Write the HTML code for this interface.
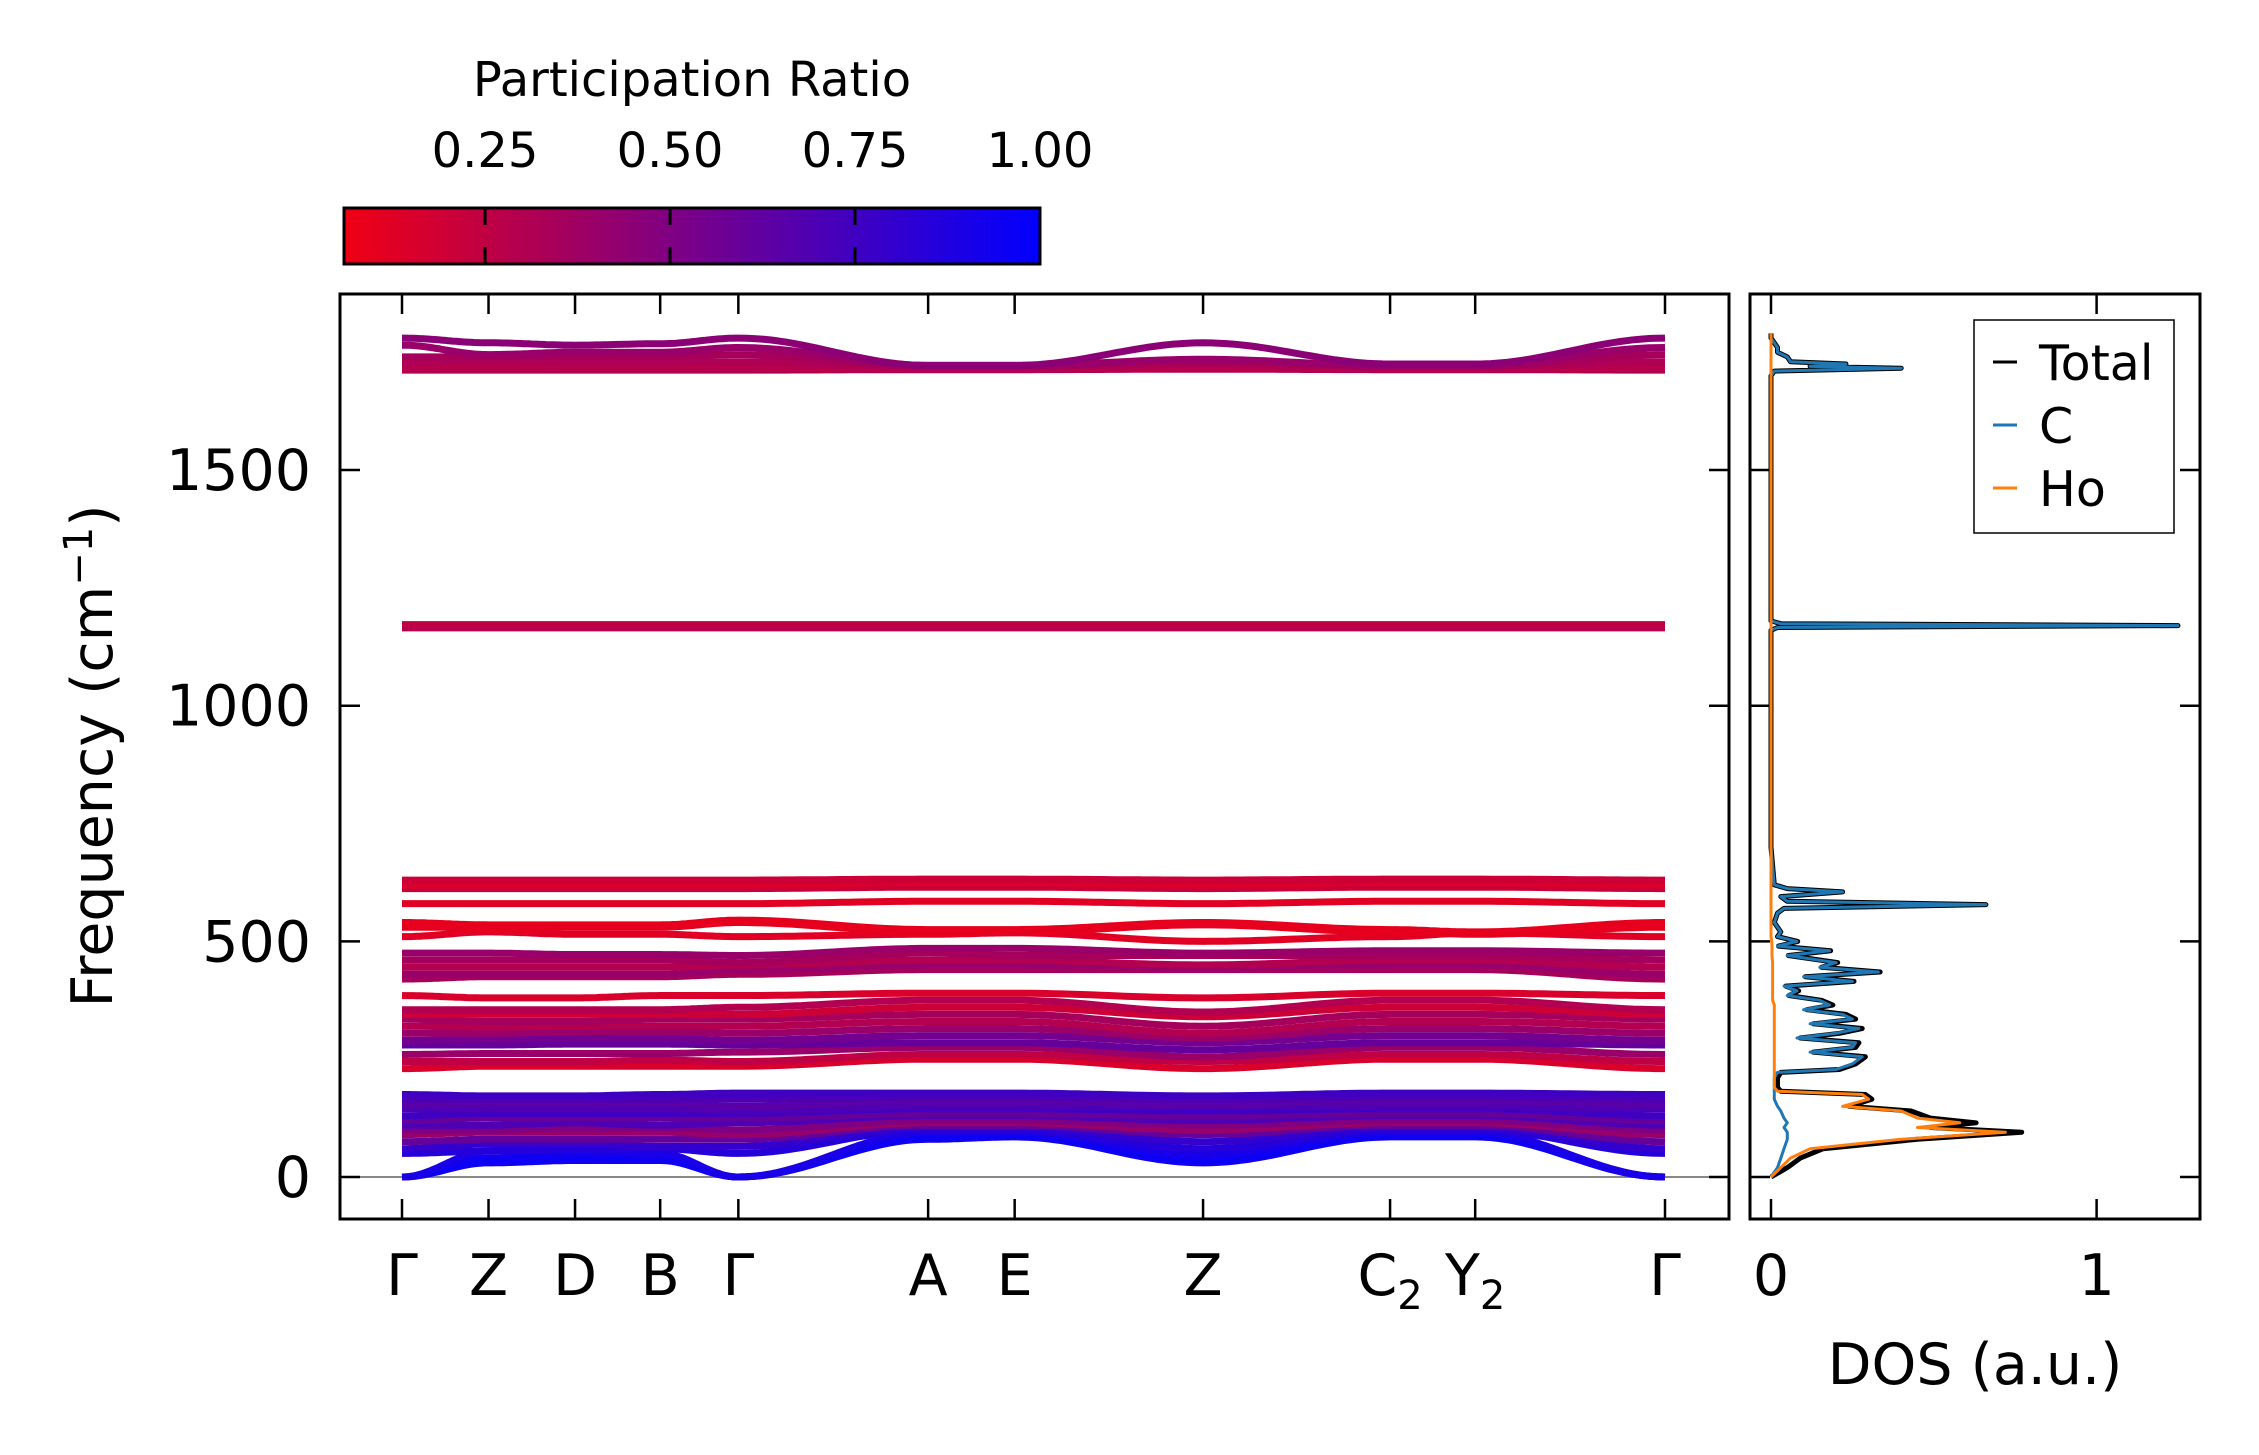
<!DOCTYPE html>
<html><head><meta charset="utf-8"><style>
html,body{margin:0;padding:0;background:#fff;}
svg{display:block;font-family:"DejaVu Sans","Liberation Sans",sans-serif;}
</style></head><body>
<svg id="chart" width="2259" height="1455" viewBox="0 0 2259 1455" xmlns="http://www.w3.org/2000/svg">
<defs>
<linearGradient id="cbgrad" x1="0" x2="1" y1="0" y2="0">
<stop offset="0" stop-color="rgb(240,0,20)"/>
<stop offset="1" stop-color="rgb(0,0,255)"/>
</linearGradient>
<clipPath id="mainclip"><rect x="340" y="294" width="1389" height="925"/></clipPath>
<clipPath id="dosclip"><rect x="1750" y="294" width="450" height="925"/></clipPath>
</defs>
<g id="colorbar">
<text x="692" y="96" font-size="48" text-anchor="middle">Participation Ratio</text>
<rect x="344" y="208" width="696" height="56" fill="url(#cbgrad)" stroke="#000" stroke-width="3"/>
<g id="cbticks"></g>
</g>
<g id="main">
<line x1="340" x2="1729" id="zeroline" stroke="#888" stroke-width="2"/>
<g id="bands" clip-path="url(#mainclip)"></g>
<rect x="340" y="294" width="1389" height="925" fill="none" stroke="#000" stroke-width="3"/>
<g id="mainticks"></g>
<text transform="translate(112,756) rotate(-90)" font-size="57" text-anchor="middle">Frequency (cm<tspan dy="-20" font-size="40">−1</tspan><tspan dy="20">)</tspan></text>
</g>
<g id="dos">
<g id="doscurves" clip-path="url(#dosclip)"></g>
<rect x="1750" y="294" width="450" height="925" fill="none" stroke="#000" stroke-width="3"/>
<g id="dosticks"></g>
<text x="1975" y="1384" font-size="57" text-anchor="middle">DOS (a.u.)</text>
<g>
<rect x="1974" y="320" width="200" height="213" fill="#fff" stroke="#000" stroke-width="1.5"/>
<line x1="1993" x2="2017" y1="362" y2="362" stroke="#000" stroke-width="3"/>
<text x="2039" y="380" font-size="49">Total</text>
<line x1="1993" x2="2017" y1="425" y2="425" stroke="#1f77b4" stroke-width="3"/>
<text x="2039" y="443" font-size="49">C</text>
<line x1="1993" x2="2017" y1="488" y2="488" stroke="#ff7f0e" stroke-width="3"/>
<text x="2039" y="506" font-size="49">Ho</text>
</g>
</g>
</svg>
<script>
const kLabels = ["Γ","Z","D","B","Γ","A","E","Z","C","Y","Γ"];
const kSubs = ["","","","","","","","","2","2",""];
const kDist = [0, 0.62, 1.24, 1.85, 2.41, 3.77, 4.39, 5.74, 7.08, 7.69, 9.05];
const yTicks = [0, 500, 1000, 1500];
const cbTicks = [0.25, 0.50, 0.75, 1.00];
const cbTickLabels = ["0.25", "0.50", "0.75", "1.00"];
const bandFreqs = [
[0,30,35,35,0,80,85,30,85,85,0],
[0,40,45,40,0,90,90,40,90,90,0],
[0,55,55,50,0,95,95,50,95,95,0],
[50,55,60,60,50,100,100,60,100,100,50],
[60,70,70,65,65,105,105,75,105,105,60],
[75,80,80,80,80,110,110,90,110,110,75],
[90,95,95,95,90,115,115,100,115,115,90],
[100,100,105,105,100,120,120,110,120,120,100],
[110,110,115,110,115,130,130,120,130,130,110],
[120,125,125,125,125,135,135,130,135,135,120],
[130,135,135,135,135,145,145,140,145,145,130],
[145,145,145,145,140,150,150,150,150,150,145],
[155,155,155,155,150,160,160,155,160,160,155],
[165,165,165,165,165,170,170,165,170,170,165],
[175,172,172,175,178,178,178,172,178,178,175],
[230,235,235,235,235,250,250,230,250,250,230],
[245,245,245,248,245,260,260,245,260,260,245],
[260,262,262,262,265,275,275,255,275,275,260],
[280,280,282,282,280,285,285,270,285,285,280],
[290,292,295,295,290,300,300,285,300,300,290],
[305,305,308,308,305,315,315,295,315,315,305],
[320,318,320,320,320,330,330,305,330,330,320],
[335,330,330,335,335,345,345,320,345,345,335],
[345,345,345,345,345,360,360,340,360,360,345],
[355,355,355,355,360,375,375,350,375,375,355],
[385,380,380,385,385,390,390,380,390,390,385],
[420,425,425,425,430,440,440,440,440,440,420],
[430,430,430,430,440,450,450,445,450,450,430],
[445,445,445,445,450,460,460,450,460,460,445],
[460,460,460,460,455,475,470,470,470,470,460],
[475,475,472,472,470,485,485,475,480,480,475],
[510,520,515,515,510,515,518,500,510,518,510],
[530,530,530,530,540,520,520,535,520,515,530],
[540,535,535,535,545,525,525,540,525,520,540],
[580,580,580,580,580,585,585,580,585,585,580],
[612,612,612,612,612,615,615,612,615,615,612],
[620,620,620,620,620,625,625,620,625,625,620],
[630,630,630,630,630,632,632,630,632,632,630],
[1165,1165,1165,1165,1165,1165,1165,1165,1165,1165,1165],
[1172,1172,1172,1172,1172,1172,1172,1172,1172,1172,1172],
[1712,1712,1712,1712,1712,1713,1713,1714,1713,1713,1712],
[1720,1720,1720,1720,1720,1715,1715,1720,1715,1715,1720],
[1730,1730,1730,1730,1730,1718,1718,1725,1718,1718,1730],
[1740,1740,1742,1742,1745,1720,1720,1730,1720,1720,1745],
[1765,1745,1750,1750,1760,1722,1722,1735,1722,1722,1760],
[1780,1770,1765,1768,1780,1722,1722,1770,1725,1725,1780]
];
const bandPR = [0.95,0.95,0.9,0.85,0.8,0.6,0.4,0.5,0.7,0.6,0.75,0.7,0.65,0.7,0.75,
0.15,0.25,0.4,0.6,0.55,0.4,0.3,0.35,0.2,0.3,0.15,
0.35,0.4,0.3,0.35,0.4,0.12,0.1,0.1,0.12,0.2,0.15,0.2,0.3,0.25,
0.3,0.28,0.32,0.35,0.4,0.45];
const dosFreq = [0,20,40,60,80,95,105,115,125,140,150,165,175,182,190,210,222,228,240,255,265,275,285,295,305,315,325,335,345,355,365,375,385,395,405,415,425,435,445,455,470,480,490,500,510,520,540,560,570,578,585,595,605,612,620,700,1160,1166,1170,1174,1180,1700,1710,1716,1720,1725,1730,1740,1750,1760,1770,1780,1790];
const dosC = [0,0.02,0.03,0.04,0.05,0.05,0.04,0.05,0.04,0.03,0.02,0.01,0.01,0.01,0.01,0.01,0.02,0.20,0.25,0.28,0.12,0.25,0.26,0.08,0.20,0.27,0.12,0.25,0.22,0.10,0.18,0.15,0.05,0.08,0.04,0.25,0.10,0.33,0.15,0.20,0.05,0.18,0.02,0.08,0.02,0.03,0.01,0.02,0.04,0.66,0.05,0.03,0.22,0.05,0.01,0,0,0.02,1.25,0.03,0,0,0.01,0.40,0.12,0.23,0.06,0.05,0.02,0.02,0.01,0,0];
const dosHo = [0,0.03,0.06,0.12,0.40,0.72,0.45,0.58,0.45,0.40,0.22,0.30,0.28,0.02,0.01,0.01,0.01,0.01,0.01,0.01,0.01,0.01,0.01,0.01,0.01,0.01,0.01,0.01,0.01,0.01,0.01,0.005,0.005,0.005,0.005,0.005,0.005,0.005,0.005,0.005,0.003,0.003,0.003,0.002,0,0,0,0,0,0,0,0,0,0,0,0,0,0,0,0,0,0,0,0,0,0,0,0,0,0,0,0,0];
const dosXTicks = [0, 1];

const NS = "http://www.w3.org/2000/svg";
const X0 = 402, X1 = 1665;
const xk = d => X0 + (d - kDist[0]) / (kDist[kDist.length-1] - kDist[0]) * (X1 - X0);
const yf = f => 1177 - f * 0.4713;
const xd = v => 1771 + v * 325.6;
const cbx = v => 344 + (v - 0.0594) / (1 - 0.0594) * 696;
function prColor(p){
  const t = Math.max(0, Math.min(1, (p - 0.0594) / (1 - 0.0594)));
  return `rgb(${Math.round(240*(1-t))},0,${Math.round(20+235*t)})`;
}
function mk(tag, attrs, parent){
  const el = document.createElementNS(NS, tag);
  for (const k in attrs) el.setAttribute(k, attrs[k]);
  parent.appendChild(el);
  return el;
}
document.getElementById('zeroline').setAttribute('y1', yf(0));
document.getElementById('zeroline').setAttribute('y2', yf(0));

const cbg = document.getElementById('cbticks');
cbTicks.forEach((v, i) => {
  if (v < 1) {
    const t1 = mk('line', {x1: cbx(v), x2: cbx(v), y1: 208, y2: 225, stroke: '#000', 'stroke-width': 3}, cbg);
    
    
    const t2 = mk('line', {x1: cbx(v), x2: cbx(v), y1: 247, y2: 264, stroke: '#000', 'stroke-width': 3}, cbg);
    
    
  }
  const tx = mk('text', {x: cbx(v), y: 167, 'font-size': 48, 'text-anchor': 'middle'}, cbg);
  tx.textContent = cbTickLabels[i];
  
  
});

const bg = document.getElementById('bands');
bandFreqs.forEach((fr, bi) => {
  const pts = [];
  for (let s = 0; s < fr.length - 1; s++) {
    const n = 24;
    for (let j = 0; j <= n; j++) {
      if (s > 0 && j === 0) continue;
      const t = j / n, w = (1 - Math.cos(Math.PI * t)) / 2;
      const d = kDist[s] + (kDist[s+1] - kDist[s]) * t;
      const f = fr[s] + (fr[s+1] - fr[s]) * w;
      pts.push(xk(d).toFixed(1) + ',' + yf(f).toFixed(1));
    }
  }
  const pl = mk('polyline', {points: pts.join(' '), fill: 'none', stroke: prColor(bandPR[bi]), 'stroke-width': 7, 'stroke-linejoin': 'round'}, bg);
  
  
});

const mt = document.getElementById('mainticks');
kDist.forEach((d, i) => {
  const x = xk(d);
  const a = mk('line', {x1: x, x2: x, y1: 1219, y2: 1199, stroke: '#000', 'stroke-width': 2.5}, mt);
  
  
  const b = mk('line', {x1: x, x2: x, y1: 294, y2: 314, stroke: '#000', 'stroke-width': 2.5}, mt);
  
  
  const tx = mk('text', {x: x, y: 1295, 'font-size': 57, 'text-anchor': 'middle'}, mt);
  tx.textContent = kLabels[i];
  if (kSubs[i]) {
    const ts = mk('tspan', {dy: 14, 'font-size': 40}, tx);
    ts.textContent = kSubs[i];
  }
  
  
});
yTicks.forEach(v => {
  const y = yf(v);
  [[340, 360], [1709, 1729], [1750, 1770], [2180, 2200]].forEach(([a1, a2]) => {
    const l = mk('line', {x1: a1, x2: a2, y1: y, y2: y, stroke: '#000', 'stroke-width': 2.5}, mt);
    
    
  });
  const tx = mk('text', {x: 311, y: y + 20, 'font-size': 57, 'text-anchor': 'end'}, mt);
  tx.textContent = v;
  
  
});

const dg = document.getElementById('doscurves');
function dosPath(vals){
  return vals.map((v, i) => xd(v).toFixed(1) + ',' + yf(dosFreq[i]).toFixed(1)).join(' ');
}
const dosTotal = dosC.map((c, i) => c + dosHo[i]);
const pT = mk('polyline', {points: dosPath(dosTotal), fill: 'none', stroke: '#000', 'stroke-width': 5, 'stroke-linejoin': 'round'}, dg);


const pC = mk('polyline', {points: dosPath(dosC), fill: 'none', stroke: '#1f77b4', 'stroke-width': 3, 'stroke-linejoin': 'round'}, dg);


const pH = mk('polyline', {points: dosPath(dosHo), fill: 'none', stroke: '#ff7f0e', 'stroke-width': 3, 'stroke-linejoin': 'round'}, dg);


const dt = document.getElementById('dosticks');
dosXTicks.forEach(v => {
  const x = xd(v);
  const a = mk('line', {x1: x, x2: x, y1: 1219, y2: 1199, stroke: '#000', 'stroke-width': 2.5}, dt);
  
  
  const b = mk('line', {x1: x, x2: x, y1: 294, y2: 314, stroke: '#000', 'stroke-width': 2.5}, dt);
  
  
  const tx = mk('text', {x: x, y: 1295, 'font-size': 57, 'text-anchor': 'middle'}, dt);
  tx.textContent = v;
  
  
});
</script>
</body></html>
